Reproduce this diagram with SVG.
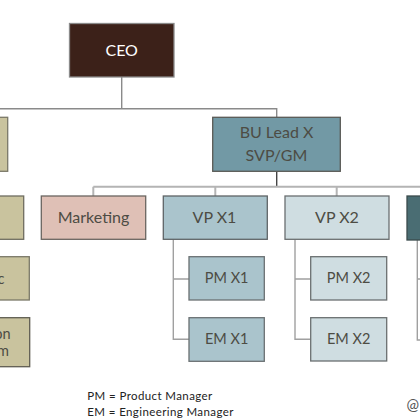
<svg xmlns="http://www.w3.org/2000/svg" width="420" height="420" viewBox="0 0 420 420">
<style>
  .box { stroke-width: 1.3; }
  .lbl { font-family: Lato, "Liberation Sans", sans-serif; font-size: 16px; fill: #4d4c44; text-anchor: middle; }
  .sm { font-size: 14.5px; }
  .legend { font-family: Lato, "Liberation Sans", sans-serif; font-size: 11.5px; fill: #222; letter-spacing: 0.4px; }
  .c1 { fill: none; stroke: #8a8a8a; stroke-width: 1.4; }
  .c2 { fill: none; stroke: #b4b4b4; stroke-width: 2; }
  .c3 { fill: none; stroke: #454545; stroke-width: 1.4; }
  .c4 { fill: none; stroke: #a0a0a0; stroke-width: 1.4; }
</style>
<rect width="420" height="420" fill="#ffffff"/>
<g id="connectors">
  <path class="c1" d="M121.7 77 V108.7 M0 108.7 H276.7 V117.3"/>
  <path class="c3" d="M276.7 171.3 V186.7"/>
  <path class="c2" d="M93.3 186.7 H420 M93.3 186.7 V196 M215.3 186.7 V196 M336.7 186.7 V196"/>
  <path class="c4" d="M173.3 239.3 V339.3 H189 M173.3 279 H189"/>
  <path class="c4" d="M295 239.3 V339.3 H310.7 M295 279 H310.7"/>
  <path class="c4" d="M417.3 240 V340 H420 M417.3 279 H420"/>
</g>
<g id="ceo">
  <rect class="box" x="69.5" y="23.5" width="104.5" height="53.5" fill="#3c2119" stroke="#8a8a8a"/>
  <text class="lbl" x="121.7" y="55.5" style="fill:#ffffff">CEO</text>
</g>
<g id="left-bu">
  <rect class="box" x="-60" y="117.3" width="67.7" height="54" fill="#c9c39e" stroke="#7a7868"/>
</g>
<g id="left-vp">
  <rect class="box" x="-60" y="196" width="83.7" height="43.3" fill="#c9c39e" stroke="#6f6d60"/>
</g>
<g id="left-child-1">
  <rect class="box" x="-46" y="256.7" width="75.3" height="43.3" fill="#c9c39e" stroke="#7a7868"/>
  <text class="lbl sm" x="4.5" y="283.5" style="text-anchor:end">c</text>
</g>
<g id="left-child-2">
  <rect class="box" x="-46" y="317.7" width="75.7" height="49" fill="#c9c39e" stroke="#5f5d52"/>
  <text class="lbl sm" x="10.5" y="339.3" style="text-anchor:end">on</text>
  <text class="lbl sm" x="9" y="355.7" style="text-anchor:end">m</text>
</g>
<g id="bu-lead-x">
  <rect class="box" x="212.7" y="117.3" width="127.6" height="54" fill="#7299a5" stroke="#5a5a55"/>
  <text class="lbl" x="276.5" y="137.5">BU Lead X</text>
  <text class="lbl" x="276.5" y="161">SVP/GM</text>
</g>
<g id="marketing">
  <rect class="box" x="41.3" y="196" width="104.4" height="43.3" fill="#dfc0b6" stroke="#6a6560"/>
  <text class="lbl" x="93.5" y="223.3">Marketing</text>
</g>
<g id="vp-x1">
  <rect class="box" x="163.3" y="196" width="104" height="43.3" fill="#aac4cc" stroke="#5f6466"/>
  <text class="lbl" x="214.5" y="222.7">VP X1</text>
</g>
<g id="pm-x1">
  <rect class="box" x="189" y="256.7" width="75.3" height="43.3" fill="#aac4cc" stroke="#6a7072"/>
  <text class="lbl sm" x="226.7" y="283.3">PM X1</text>
</g>
<g id="em-x1">
  <rect class="box" x="189" y="317.7" width="75.3" height="43.6" fill="#aac4cc" stroke="#6a7072"/>
  <text class="lbl sm" x="226.7" y="344">EM X1</text>
</g>
<g id="vp-x2">
  <rect class="box" x="285" y="196" width="104" height="43.3" fill="#cfdde1" stroke="#6a6f70"/>
  <text class="lbl" x="337" y="222.7">VP X2</text>
</g>
<g id="pm-x2">
  <rect class="box" x="310.7" y="256.7" width="76" height="43.3" fill="#cfdde1" stroke="#6a6f70"/>
  <text class="lbl sm" x="348.7" y="283.3">PM X2</text>
</g>
<g id="em-x2">
  <rect class="box" x="310.7" y="317.7" width="76" height="43.3" fill="#cfdde1" stroke="#6a6f70"/>
  <text class="lbl sm" x="348.7" y="344">EM X2</text>
</g>
<g id="vp-x3">
  <rect class="box" x="407" y="196" width="60" height="44" fill="#4a6d73" stroke="#3a4a4c"/>
</g>
<g id="legend">
  <text class="legend" x="87.3" y="400">PM = Product Manager</text>
  <text class="legend" x="87.3" y="415.7">EM = Engineering Manager</text>
  <text x="406.5" y="410" style="font-family: Lato, 'Liberation Sans', sans-serif; font-size: 15px; fill:#555">@</text>
</g>
</svg>
